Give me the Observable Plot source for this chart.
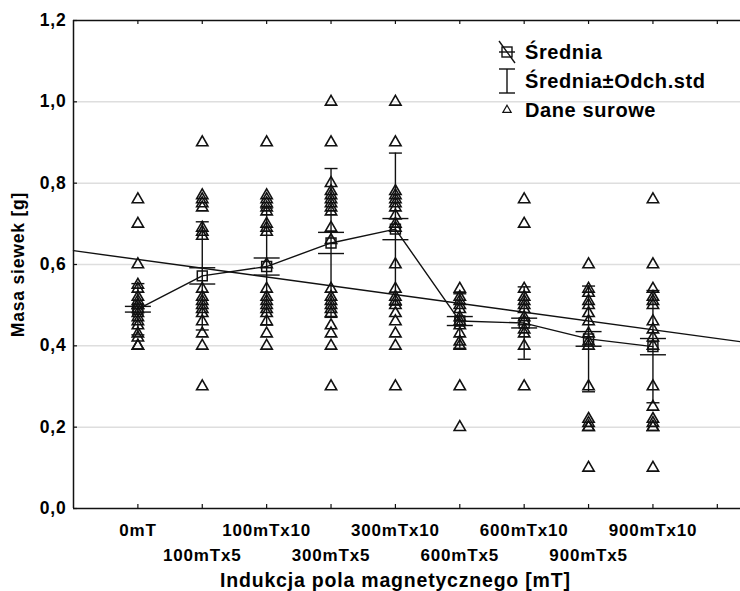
<!DOCTYPE html>
<html><head><meta charset="utf-8">
<script src="https://cdn.jsdelivr.net/npm/d3@7"></script>
<script src="https://cdn.jsdelivr.net/npm/@observablehq/plot@0.6"></script>
<style>
body{margin:0;background:#fff}
#chart svg{font-family:"Liberation Sans",Arial,sans-serif;font-weight:bold}
</style>
</head><body><div id="chart"></div><script>
// ---- data ----
const categories = ["0mT","100mTx5","100mTx10","300mTx5","300mTx10","600mTx5","600mTx10","900mTx5","900mTx10"];
const raw0mT      = [0.76,0.70,0.60,0.55,0.54,0.52,0.51,0.50,0.50,0.49,0.48,0.47,0.46,0.45,0.43,0.42,0.40,0.40];
const raw100mTx5  = [0.90,0.77,0.76,0.75,0.74,0.69,0.68,0.67,0.54,0.52,0.51,0.50,0.49,0.48,0.46,0.43,0.40,0.30];
const raw100mTx10 = [0.90,0.77,0.76,0.75,0.74,0.73,0.70,0.69,0.68,0.60,0.54,0.52,0.51,0.50,0.49,0.48,0.46,0.43,0.40];
const raw300mTx5  = [1.00,0.90,0.80,0.78,0.77,0.76,0.75,0.74,0.73,0.69,0.66,0.54,0.52,0.51,0.50,0.49,0.48,0.45,0.43,0.40,0.30];
const raw300mTx10 = [1.00,0.90,0.78,0.77,0.76,0.75,0.74,0.72,0.70,0.69,0.60,0.54,0.52,0.51,0.50,0.48,0.46,0.43,0.40,0.30];
const raw600mTx5  = [0.54,0.52,0.51,0.50,0.49,0.47,0.46,0.45,0.43,0.41,0.40,0.30,0.20];
const raw600mTx10 = [0.76,0.70,0.54,0.52,0.51,0.50,0.49,0.47,0.46,0.44,0.43,0.40,0.30];
const raw900mTx5  = [0.60,0.54,0.53,0.51,0.50,0.48,0.46,0.43,0.41,0.40,0.30,0.22,0.21,0.20,0.20,0.10];
const raw900mTx10 = [0.76,0.60,0.54,0.52,0.51,0.50,0.46,0.44,0.42,0.40,0.30,0.25,0.22,0.21,0.20,0.20,0.10];
const rawSeries = [raw0mT,raw100mTx5,raw100mTx10,raw300mTx5,raw300mTx10,raw600mTx5,raw600mTx10,raw900mTx5,raw900mTx10];
const means = [0.490,0.572,0.595,0.653,0.687,0.461,0.456,0.417,0.398];
const sds   = [0.063,0.133,0.144,0.183,0.187,0.067,0.089,0.130,0.138];
const ses   = [0.007,0.020,0.021,0.026,0.026,0.011,0.012,0.018,0.020];
const regIntercept = 0.634;
const regSlope = -0.0216;
const yTicks = [0,0.2,0.4,0.6,0.8,1.0,1.2];
const xTicks = [1,2,3,4,5,6,7,8,9,10];
const xDomain = [0,10.36];
const yDomain = [0,1.2];
const xTitle = "Indukcja pola magnetycznego [mT]";
const yTitle = "Masa siewek [g]";
const legendLabels = ["Średnia","Średnia±Odch.std","Dane surowe"];

// ---- derived tables ----
const rawTable = rawSeries.flatMap((vals,i)=>vals.map(v=>({x:i+1,y:v})));
const stats = categories.map((c,i)=>({x:i+1,mean:means[i],sd:sds[i],se:ses[i]}));
const sdCaps = stats.flatMap(d=>[{x:d.x,y:d.mean-d.sd},{x:d.x,y:d.mean+d.sd}]);
const seCaps = stats.flatMap(d=>[{x:d.x,y:d.mean-d.se},{x:d.x,y:d.mean+d.se}]);
const regLine = xDomain.map(x=>({x,y:regIntercept+regSlope*x}));
const fmt = d=>d3.format(".1f")(d).replace(".",",");
const hLine = {draw(ctx,size){const h=Math.sqrt(size/Math.PI);ctx.moveTo(-h,0);ctx.lineTo(h,0);}};

const W=740,H=591,mL=73,mR=0,mT=20,mB=83;
const frameH=H-mT-mB, frameW=W-mL-mR;
const ink="#111";

const plot = Plot.plot({
  width:W,height:H,marginLeft:mL,marginRight:mR,marginTop:mT,marginBottom:mB,
  x:{domain:xDomain},
  y:{domain:yDomain},
  style:{fontFamily:'"Liberation Sans",Arial,sans-serif',fontSize:"17px",fontWeight:"bold",background:"#fff",color:"#000"},
  marks:[
    Plot.ruleY(yTicks.slice(1,-1),{stroke:"#dedede",strokeWidth:1.5}),
    Plot.ruleY([yDomain[0],yDomain[1]],{stroke:ink,strokeWidth:1.5}),
    Plot.ruleX([xDomain[0]],{stroke:ink,strokeWidth:1.5}),
    Plot.tickX(xTicks,{x:d=>d,insetTop:frameH-4,stroke:ink,strokeWidth:1.2}),
    Plot.tickX(xTicks,{x:d=>d,insetBottom:frameH-4,stroke:ink,strokeWidth:1.2}),
    Plot.tickY(yTicks,{y:d=>d,insetRight:frameW-4,stroke:ink,strokeWidth:1.2}),
    Plot.axisY({ticks:yTicks,tickFormat:fmt,tickSize:0,tickPadding:7,label:yTitle,labelAnchor:"center",labelOffset:62,labelArrow:"none",fontSize:17.5,fontWeight:"bold"}),
    Plot.axisX({ticks:[1,3,5,7,9],tickFormat:i=>categories[i-1],tickSize:0,tickPadding:15,label:null,fontSize:17,fontWeight:"bold"}),
    Plot.axisX({ticks:[2,4,6,8],tickFormat:i=>categories[i-1],tickSize:0,tickPadding:40,label:null,fontSize:17,fontWeight:"bold"}),
    Plot.text([xTitle],{x:()=>(categories.length+1)/2,frameAnchor:"bottom",dy:72,lineAnchor:"middle",fontSize:19.5,fontWeight:"bold",fill:"#000"}),
    Plot.line(regLine,{x:"x",y:"y",stroke:ink,strokeWidth:1.4}),
    Plot.dot(rawTable,{x:"x",y:"y",symbol:"triangle",r:4.2,stroke:ink,fill:"none",strokeWidth:1.6}),
    Plot.ruleX(stats,{x:"x",y1:d=>d.mean-d.sd,y2:d=>d.mean+d.sd,stroke:ink,strokeWidth:1.4}),
    Plot.dot(sdCaps,{x:"x",y:"y",symbol:hLine,r:6.5,stroke:ink,strokeWidth:1.4}),
    Plot.dot(seCaps,{x:"x",y:"y",symbol:hLine,r:13,stroke:ink,strokeWidth:1.4}),
    Plot.line(stats,{x:"x",y:"mean",stroke:ink,strokeWidth:1.4}),
    Plot.dot(stats,{x:"x",y:"mean",symbol:"square",r:5.6,stroke:ink,fill:"none",strokeWidth:1.5})
  ]
});
document.getElementById("chart").appendChild(plot);

// ---- legend ----
const svg = d3.select(plot);
svg.selectAll("text").style("letter-spacing","0.8px");
const lg = svg.append("g").attr("stroke",ink).attr("fill","none").attr("stroke-width",1.4);
const lx = 507;
const rows=[52,81,110];
// mean symbol
lg.append("rect").attr("x",lx-5).attr("y",rows[0]-5).attr("width",10).attr("height",10);
lg.append("line").attr("x1",lx-8).attr("x2",lx+8).attr("y1",rows[0]).attr("y2",rows[0]);
lg.append("line").attr("x1",lx-8).attr("x2",lx+8).attr("y1",rows[0]-11).attr("y2",rows[0]+11);
// whisker symbol
lg.append("line").attr("x1",lx).attr("x2",lx).attr("y1",rows[1]-12).attr("y2",rows[1]+12);
lg.append("line").attr("x1",lx-8).attr("x2",lx+8).attr("y1",rows[1]-12).attr("y2",rows[1]-12);
lg.append("line").attr("x1",lx-8).attr("x2",lx+8).attr("y1",rows[1]+12).attr("y2",rows[1]+12);
// triangle symbol
lg.append("path").attr("d",d3.symbol(d3.symbolTriangle,30)()).attr("transform",`translate(${lx},${rows[2]})`).attr("stroke-width",1.2);
legendLabels.forEach((t,i)=>{
  svg.append("text").attr("x",525).attr("y",rows[i]).attr("dy","0.35em")
    .attr("text-anchor","start")
    .attr("font-size",20).attr("font-weight","bold").attr("fill","#000")
    .style("letter-spacing","0.6px").text(t);
});
</script></body></html>
